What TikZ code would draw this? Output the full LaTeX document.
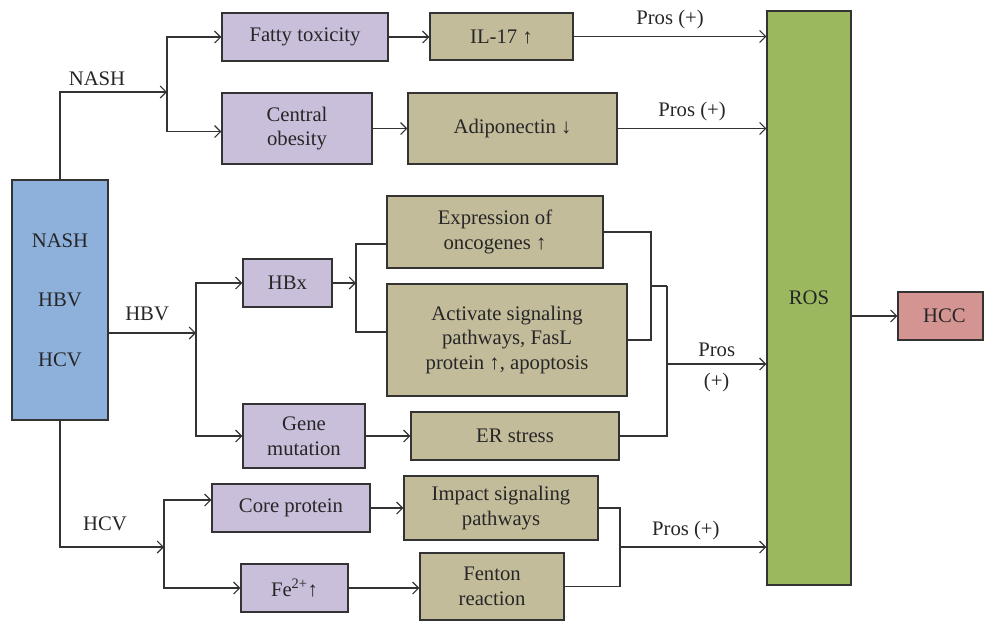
\documentclass[tikz,border=0pt]{standalone}
\usepackage{fontspec}
\setmainfont{Liberation Serif}
\usepackage{xcolor}
\usepackage{tikz}
\usetikzlibrary{arrows.meta,calc,positioning}
\definecolor{riskblue}{RGB}{142,177,220}
\definecolor{causepurple}{RGB}{201,191,219}
\definecolor{effectkhaki}{RGB}{195,188,155}
\definecolor{rosgreen}{RGB}{155,184,95}
\definecolor{hccpink}{RGB}{212,149,146}
\definecolor{linegray}{RGB}{51,51,51}
\begin{document}
\begin{tikzpicture}[x=1pt, y=-1pt, >={Straight Barb[length=6pt,width=12pt]},
        font=\fontsize{20.7}{24.5}\selectfont, text=black!85]
        \tikzset{base node/.style={rectangle,draw=linegray,line width=1.4pt,inner sep=0pt,align=center},
                 cause node/.style={base node,fill=causepurple},
                 effect node/.style={base node,fill=effectkhaki},
                 link/.style={draw=linegray,line width=1.1pt}}
        \useasboundingbox (0,0) rectangle (984,622);

        % Nodes
        \node (risk) [base node, fill=riskblue, minimum width=96pt, minimum height=240pt] at (60,300) {NASH\\[35pt]HBV\\[35pt]HCV};
        \node (fatty) [cause node, minimum width=166pt, minimum height=48pt] at (305,37) {Fatty toxicity};
        \node (obesity) [cause node, minimum width=150pt, minimum height=71pt] at (297,128.5) {Central\\obesity};
        \node (il17) [effect node, minimum width=143pt, minimum height=47pt] at (501.5,36.5) {IL-17 ↑};
        \node (adipo) [effect node, minimum width=209pt, minimum height=71pt] at (512.5,128.5) {Adiponectin ↓};
        \node (hbx) [cause node, minimum width=89pt, minimum height=48pt] at (287.5,283) {HBx};
        \node (gene) [cause node, minimum width=122pt, minimum height=64pt] at (304,436) {Gene\\mutation};
        \node (expr) [effect node, minimum width=216pt, minimum height=72pt] at (495,232) {Expression of\\oncogenes ↑};
        \node (activ) [effect node, minimum width=240pt, minimum height=112pt] at (507,340) {Activate signaling\\pathways, FasL\\protein ↑, apoptosis};
        \node (er) [effect node, minimum width=208pt, minimum height=48pt] at (515,436) {ER stress};
        \node (core) [cause node, minimum width=158pt, minimum height=48pt] at (291,508) {Core protein};
        \node (impact) [effect node, minimum width=194pt, minimum height=64pt] at (501,508) {Impact signaling\\pathways};
        \node (fe) [cause node, minimum width=107pt, minimum height=48pt] at (294.5,588) {Fe\textsuperscript{2+}↑};
        \node (fenton) [effect node, minimum width=144pt, minimum height=67pt] at (492,586.5) {Fenton\\reaction};
        \node (ros) [base node, fill=rosgreen, minimum width=84pt, minimum height=574pt] at (809,298) {ROS};
        \node (hcc) [base node, fill=hccpink, minimum width=85pt, minimum height=48pt] at (940.5,316) {\hspace{8pt}HCC};

        % Split and join points
        \coordinate (nashsplit) at (167,92);
        \coordinate (hbvsplit) at (196,333);
        \coordinate (hcvsplit) at (164,547);
        \coordinate (hbxsplit) at (356,283);
        \coordinate (hbxjoin) at (651,286);
        \coordinate (hbvjoin) at (667,286);
        \coordinate (hbvout) at (667,364);
        \coordinate (hcvjoin) at (620,547);

        % Arrows
        \draw [link, ->] (risk.north) |- (nashsplit) node [pos=0.673, above=2pt] {NASH};
        \draw [link, ->] (nashsplit) |- (fatty.west);
        \draw [link, ->] (nashsplit) |- ([yshift=-3pt]obesity.west);
        \draw [link, ->] (fatty.east) -- (fatty.east -| il17.west);
        \draw [link, ->] (obesity.east) -- (obesity.east -| adipo.west);
        \draw [link, ->] (il17.east) -- (il17.east -| ros.west) node [midway, above=4pt] {Pros (+)};
        \draw [link, ->] (adipo.east) -- (adipo.east -| ros.west) node [midway, above=4pt] {Pros (+)};

        \draw [link, ->] (hbvsplit -| risk.east) -- (hbvsplit) node [pos=0.44, above=8pt] {HBV};
        \draw [link, ->] (hbvsplit) |- (hbx.west);
        \draw [link, ->] (hbvsplit) |- (gene.west);
        \draw [link, ->] (hbx.east) -- (hbxsplit);
        \draw [link] (hbxsplit) |- ([yshift=-12pt]expr.west);
        \draw [link] (hbxsplit) |- ([yshift=8pt]activ.west);
        \draw [link, ->] (gene.east) -- (gene.east -| er.west);
        \draw [link] (expr.east) -| (hbxjoin) |- (activ.east);
        \draw [link] (hbxjoin) -- (hbvjoin);
        \draw [link] (er.east) -| (hbvjoin);
        \draw [link, ->] (hbvout) -- (hbvout -| ros.west) node [midway, above=3pt] {Pros} node [midway, below=5pt] {(+)};

        \draw [link, ->] (risk.south) |- (hcvsplit) node [pos=0.716, above=12pt] {HCV};
        \draw [link, ->] (hcvsplit) |- ([yshift=8pt]core.west);
        \draw [link, ->] (hcvsplit) |- (fe.west);
        \draw [link, ->] (core.east) -- (core.east -| impact.west);
        \draw [link, ->] (fe.east) -- (fe.east -| fenton.west);
        \draw [link] (impact.east) -| (hcvjoin);
        \draw [link] (fenton.east) -| (hcvjoin);
        \draw [link, ->] (hcvjoin) -- (hcvjoin -| ros.west) node [pos=0.45, above=3pt] {Pros (+)};

        \draw [link, ->] (ros.east |- hcc.west) -- (hcc.west);
    \end{tikzpicture}
\end{document}
